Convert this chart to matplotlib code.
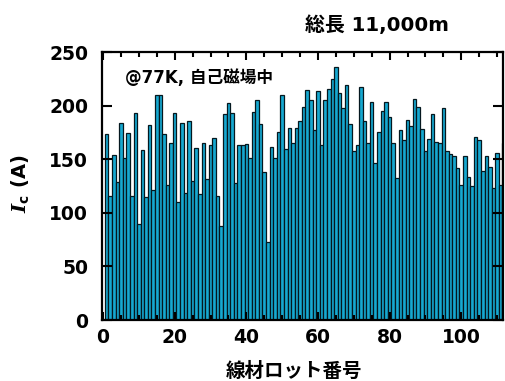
import matplotlib
matplotlib.use('Agg')
import matplotlib.pyplot as plt
from matplotlib.ticker import MultipleLocator

# Critical current of each wire lot (77 K, self field)
lot_numbers = list(range(1, 113))
ic_values = [
    174, 116, 154, 129, 184, 151, 175, 116, 193, 90,
    159, 115, 182, 121, 210, 210, 174, 126, 165, 193,
    110, 184, 119, 186, 130, 161, 118, 165, 132, 163,
    170, 116, 88, 192, 203, 193, 128, 163, 163, 164,
    151, 194, 205, 183, 138, 73, 162, 151, 176, 210,
    160, 179, 165, 179, 186, 199, 215, 205, 177, 214,
    163, 205, 216, 225, 236, 212, 198, 219, 183, 158,
    163, 218, 186, 165, 204, 147, 176, 195, 204, 190,
    165, 133, 177, 168, 187, 181, 206, 199, 178, 158,
    169, 192, 166, 165, 198, 158, 155, 153, 142, 126,
    153, 134, 125, 171, 168, 139, 153, 143, 123, 156,
    126, 165,
]
x_ticks = [0, 20, 40, 60, 80, 100]
y_ticks = [0, 50, 100, 150, 200, 250]

title_text = '総長 11,000m'
note_text = '@77K, 自己磁場中'
x_label = '線材ロット番号'
y_label = r'$\mathbfit{I}_{\mathsf{c}}$ (A)'

plt.rcParams['font.family'] = ['DejaVu Sans', 'Noto Sans CJK JP']
plt.rcParams['font.weight'] = 'bold'
plt.rcParams['mathtext.fontset'] = 'dejavusans'

W, H = 506, 381
fig = plt.figure(figsize=(W / 100, H / 100), dpi=100)
ax = fig.add_axes([102 / W, 1 - 320 / H, (503.5 - 102) / W, (320 - 52.3) / H])

ax.bar(lot_numbers, ic_values, width=1.0, color='#16a8d0',
       edgecolor='#05181f', linewidth=0.9)

ax.set_xlim(-0.3, 111.8)
ax.set_ylim(0, 250)
ax.set_xticks(x_ticks)
ax.set_yticks(y_ticks)
ax.xaxis.set_minor_locator(MultipleLocator(5))

for s in ax.spines.values():
    s.set_linewidth(1.6)
    s.set_color('black')
    s.set_zorder(5)

ax.tick_params(axis='both', which='both', direction='in', top=True, right=True,
               width=1.5, colors='black')
ax.tick_params(axis='x', which='major', length=6, pad=6, labelsize=13.5)
ax.tick_params(axis='x', which='minor', length=3.5)
ax.tick_params(axis='y', which='major', length=7, pad=10, labelsize=13.5)
for lab in ax.get_xticklabels() + ax.get_yticklabels():
    lab.set_fontweight('bold')

fig.text(305 / W, 1 - 25 / H, title_text, ha='left', va='center',
         fontsize=14.3, fontweight='bold')
ax.text(125 / W, 1 - 78 / H, note_text, transform=fig.transFigure,
        ha='left', va='center', fontsize=12, fontweight='bold', zorder=6)
fig.text(294 / W, 1 - 371 / H, x_label, ha='center', va='center',
         fontsize=14, fontweight='bold')
fig.text(20 / W, 1 - 184 / H, y_label, ha='center', va='center',
         rotation=90, fontsize=14, fontweight='bold',
         math_fontfamily='dejavuserif')

fig.savefig('out.png', dpi=100)
